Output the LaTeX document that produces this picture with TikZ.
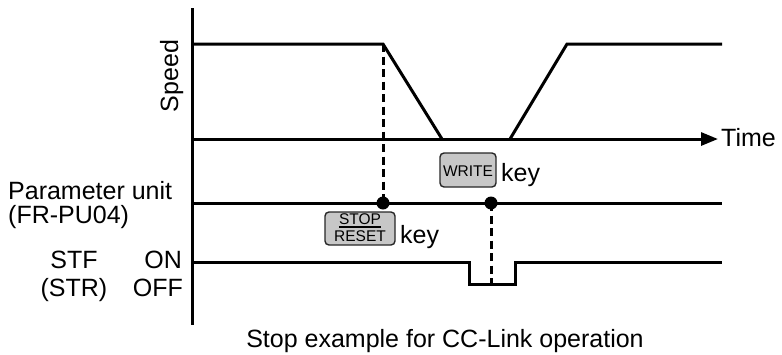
\documentclass[tikz,border=0pt]{standalone}
\usepackage{fontspec}
\setmainfont{Liberation Sans}
\usetikzlibrary{arrows.meta}
\begin{document}
\begin{tikzpicture}[x=1pt,y=-1pt,
  wave/.style={line width=3pt},
  dashln/.style={line width=3pt, dash pattern=on 8pt off 4.5pt},
  lbl/.style={font=\fontsize{25}{28}\selectfont, inner sep=0pt},
  keybox/.style={draw=black!85, fill=black!22, line width=1.4pt, rounded corners=4pt, inner sep=0pt},
  keytxt/.style={font=\fontsize{15.5}{16}\selectfont, inner sep=0pt, anchor=base},
  dotnode/.style={circle, fill=black, inner sep=0pt, minimum size=13pt}
]
\useasboundingbox (0,0) rectangle (782,354);

% axes
\coordinate (axtop) at (192,8);
\coordinate (axbot) at (192,325);
\draw[wave] (axtop) -- (axbot);
\coordinate (t0) at (192,139);
\coordinate (tend) at (718,139);
\draw[wave,-{Triangle[length=17pt,width=13pt]}] (t0) -- (tend);

% speed curve
\coordinate (s0) at (192,44);
\coordinate (s1) at (383,44);
\coordinate (s2) at (442,139);
\coordinate (s3) at (510,139);
\coordinate (s4) at (567,44);
\coordinate (s5) at (722,44);
\draw[wave,line join=miter] (s0) -- (s1) -- (s2);
\draw[wave,line join=miter] (s3) -- (s4) -- (s5);

% parameter unit line
\coordinate (p0) at (192,203);
\coordinate (p1) at (722,203);
\draw[wave] (p0) -- (p1);

% STF line
\coordinate (f0) at (192,262);
\coordinate (f1) at (469,262);
\coordinate (f2) at (469,284);
\coordinate (f3) at (515,284);
\coordinate (f4) at (515,262);
\coordinate (f5) at (722,262);
\draw[wave,line join=miter] (f0) -- (f1) -- (f2) -- (f3) -- (f4) -- (f5);

% dots and dashed lines
\node[dotnode] (d1) at (383,203) {};
\node[dotnode] (d2) at (491,203) {};
\coordinate (fd) at (491,284);
\draw[dashln] (s1) -- (d1.center);
\draw[dashln] (d2.center) -- (fd);

% labels
\node[lbl,rotate=90,anchor=base] (speed) at (178,76) {Speed};
\node[lbl,anchor=base west] (time) at (721,146) {Time};
\node[lbl,anchor=base west] (pu1) at (8,199) {Parameter unit};
\node[lbl,anchor=base west] (pu2) at (8,223) {(FR-PU04)};
\node[lbl,anchor=base] (stf) at (74,268) {STF};
\node[lbl,anchor=base] (str) at (74,296) {(STR)};
\node[lbl,anchor=base east] (on) at (182,268) {ON};
\node[lbl,anchor=base east] (off) at (183,296) {OFF};
\node[lbl,anchor=base] (caption) at (445,347) {Stop example for CC-Link operation};

% WRITE key
\node[keybox,minimum width=56pt,minimum height=34pt] (wbox) at (468,170) {};
\node[keytxt] (wtxt) at (468,176.5) {WRITE};
\node[lbl,anchor=base west] (wkey) at (501,181) {key};

% STOP/RESET key
\node[keybox,minimum width=70pt,minimum height=33pt] (sbox) at (360,228.5) {};
\node[keytxt] (stoptxt) at (360,224.5) {STOP};
\node[keytxt] (resettxt) at (360,241.5) {RESET};
\draw[line width=1.3pt] ([yshift=-2pt]stoptxt.south west) -- ([yshift=-2pt]stoptxt.south east);
\node[lbl,anchor=base west] (skey) at (400,243) {key};
\end{tikzpicture}
\end{document}
